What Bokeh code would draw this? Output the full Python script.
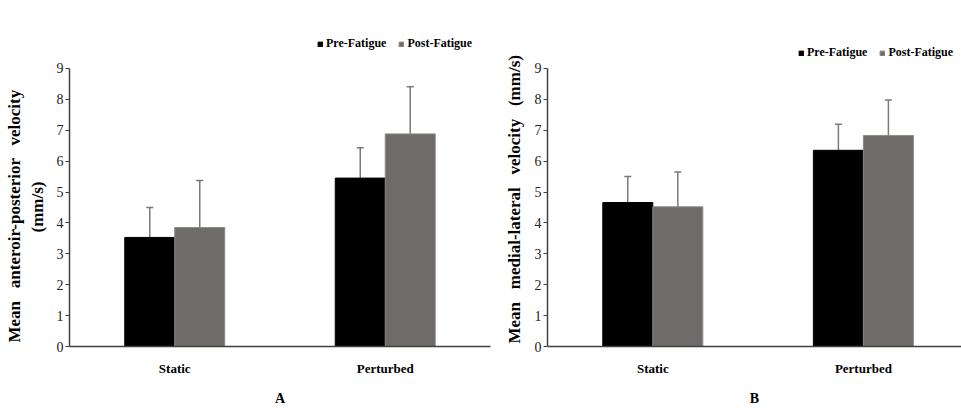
from bokeh.plotting import figure
from bokeh.models import (ColumnDataSource, Range1d, FixedTicker, Whisker, TeeHead,
                          Legend, LegendItem, Title)
from bokeh.layouts import row
from bokeh.embed import file_html
from bokeh.resources import INLINE

categories = ["Static", "Perturbed"]
series = ["Pre-Fatigue", "Post-Fatigue"]
y_ticks = [0, 1, 2, 3, 4, 5, 6, 7, 8, 9]

# Panel A: anterior-posterior velocity (mm/s)
ap_pre = [3.53, 5.45]
ap_pre_err = [0.97, 0.98]
ap_post = [3.85, 6.88]
ap_post_err = [1.52, 1.53]

# Panel B: medial-lateral velocity (mm/s)
ml_pre = [4.66, 6.35]
ml_pre_err = [0.84, 0.84]
ml_post = [4.52, 6.83]
ml_post_err = [1.13, 1.15]

PRE_COLOR = "#000000"
POST_COLOR = "#6f6b6b"
ERR_COLOR = "#7a7a7a"
SERIF = "Liberation Serif"
BAR_W = 0.2375
OFFSET = BAR_W / 2
PX_PER_UNIT = 30.9
FRAME_H = 316
GAP = " \u00a0\u00a0"  # wide word gaps as in the original


def make_panel(pre, pre_err, post, post_err, ylabels, xlabel, width, x_end,
               border_left, border_right, legend_loc):
    centers = [i + 0.5 for i in range(len(categories))]
    src_pre = ColumnDataSource(dict(
        x=[c - OFFSET for c in centers], top=pre,
        upper=[v + e for v, e in zip(pre, pre_err)],
        lower=[v - e for v, e in zip(pre, pre_err)]))
    src_post = ColumnDataSource(dict(
        x=[c + OFFSET for c in centers], top=post,
        upper=[v + e for v, e in zip(post, post_err)],
        lower=[v - e for v, e in zip(post, post_err)]))

    p = figure(width=width, height=408, output_backend="svg", toolbar_location=None,
               x_range=Range1d(0, x_end), y_range=Range1d(0, FRAME_H / PX_PER_UNIT),
               min_border_left=border_left, min_border_right=border_right,
               min_border_top=30, min_border_bottom=62)
    p.outline_line_color = None
    p.grid.visible = False
    p.background_fill_color = "white"
    p.border_fill_color = "white"

    r_pre = p.vbar(x="x", top="top", width=BAR_W, source=src_pre,
                   fill_color=PRE_COLOR, line_color=PRE_COLOR, line_width=1)
    r_post = p.vbar(x="x", top="top", width=BAR_W, source=src_post,
                    fill_color=POST_COLOR, line_color="#8c8888", line_width=1)

    for src in (src_pre, src_post):
        w = Whisker(base="x", upper="upper", lower="lower", source=src,
                    line_color=ERR_COLOR, line_width=1.5,
                    upper_head=TeeHead(size=7, line_color=ERR_COLOR, line_width=1.5),
                    lower_head=TeeHead(size=7, line_color=ERR_COLOR, line_width=1.5))
        p.add_layout(w)

    # x axis
    xa = p.xaxis[0]
    xa.ticker = FixedTicker(ticks=centers)
    xa.major_label_overrides = {c: n for c, n in zip(centers, categories)}
    xa.major_tick_line_color = None
    xa.minor_tick_line_color = None
    xa.axis_line_color = "#404040"
    xa.axis_line_width = 1.5
    xa.major_label_text_font = SERIF
    xa.major_label_text_font_style = "bold"
    xa.major_label_text_font_size = "13px"
    xa.major_label_text_color = "black"
    xa.major_label_standoff = 8
    xa.axis_label = xlabel
    xa.axis_label_text_font = SERIF
    xa.axis_label_text_font_style = "bold"
    xa.axis_label_text_font_size = "14px"
    xa.axis_label_text_color = "black"
    xa.axis_label_standoff = 12

    # y axis
    ya = p.yaxis[0]
    ya.ticker = FixedTicker(ticks=y_ticks)
    ya.bounds = (y_ticks[0], y_ticks[-1])
    ya.minor_tick_line_color = None
    ya.major_tick_out = 4
    ya.major_tick_in = 0
    ya.major_tick_line_color = "#404040"
    ya.axis_line_color = "#404040"
    ya.axis_line_width = 1.5
    ya.major_label_text_font = SERIF
    ya.major_label_text_font_size = "14px"
    ya.major_label_text_color = "#222222"
    ya.major_label_standoff = 2

    # y-axis label lines, innermost first: (text, offset from frame bottom, standoff)
    for text, off, stand in ylabels:
        t = Title(text=text, text_font=SERIF, text_font_style="bold",
                  text_font_size="17px", text_color="black", align="left",
                  offset=off, standoff=stand)
        p.add_layout(t, "left")

    legend = Legend(items=[LegendItem(label=series[0], renderers=[r_pre]),
                           LegendItem(label=series[1], renderers=[r_post])],
                    orientation="horizontal", location=legend_loc,
                    glyph_width=6, glyph_height=6, label_standoff=3, spacing=12,
                    padding=0, margin=0, border_line_color=None,
                    background_fill_alpha=0,
                    label_text_font=SERIF, label_text_font_style="bold",
                    label_text_font_size="12px", label_text_color="black")
    p.add_layout(legend, "center")
    return p


# Left panel: figure x 0..493, frame x 69..490
pA = make_panel(ap_pre, ap_pre_err, ap_post, ap_post_err,
                [("(mm/s)", 114, 13),
                 (GAP.join(["Mean", "anteroir-posterior", "velocity"]), 4, -9)], "A",
                width=493, x_end=421 / 210.5, border_left=69, border_right=3,
                legend_loc=(248, 295))

# Right panel: figure x 493..961, frame x 547..961
pB = make_panel(ml_pre, ml_pre_err, ml_post, ml_post_err,
                [(GAP.join(["Mean", "medial-lateral", "velocity", "(mm/s)"]), 3, 16)], "B",
                width=468, x_end=414 / 210.6, border_left=54, border_right=0,
                legend_loc=(251, 286))

layout = row(pA, pB, spacing=0)

open("out.html", "w").write(file_html(layout, INLINE))
